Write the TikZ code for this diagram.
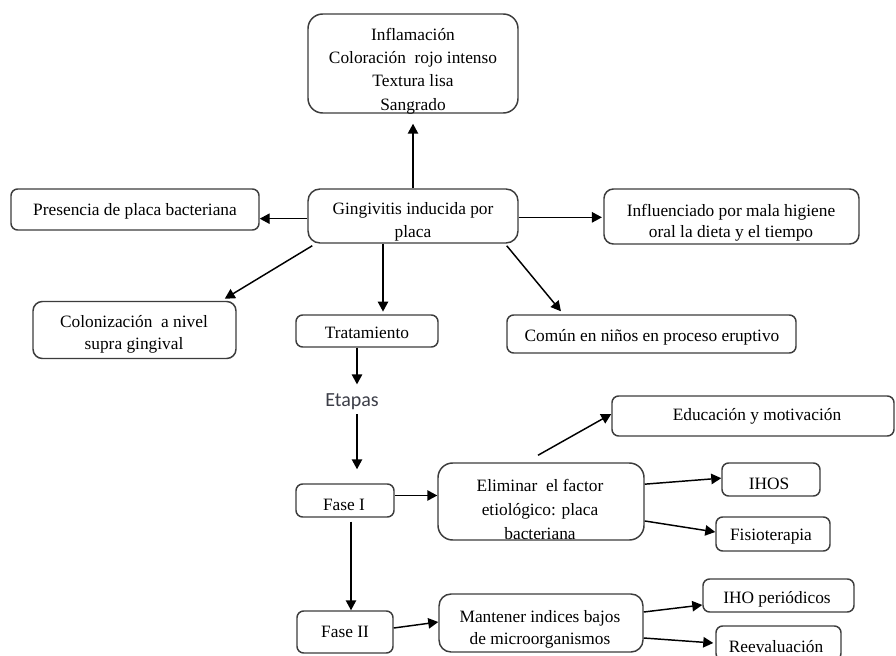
\documentclass[tikz,border=0pt]{standalone}
\usepackage{fontspec}
\setmainfont{Liberation Serif}
\newfontfamily\etapasfont{Carlito}
\usetikzlibrary{arrows.meta}
\definecolor{boxgray}{RGB}{60,60,60}
\definecolor{etapascol}{RGB}{60,62,72}
\begin{document}
\begin{tikzpicture}[x=0.75pt,y=-0.75pt,
  box/.style 2 args={draw=boxgray, line width=1.1pt, rounded corners=5pt, minimum width=#1*0.75pt, minimum height=#2*0.75pt, inner sep=0pt},
  txt/.style={align=center, inner sep=0pt, font=\fontsize{13}{17}\selectfont},
  arr/.style={draw=black, line width=1.1pt, -{Triangle[length=7.5pt,width=7.8pt]}},
  ln/.style={draw=black, line width=1pt}]
\clip (0,0) rectangle (896,656);
\fill[white] (0,0) rectangle (896,656);
% boxes
\node[box={210}{99}, rounded corners=11pt] (sym) at (413,63.5) {};
\node[box={210}{54}, rounded corners=9pt] (main) at (413,216) {};
\node[box={248}{41}] (pres) at (135,209.5) {};
\node[box={255}{55}, rounded corners=7pt] (infl) at (731.5,216.5) {};
\node[box={203}{57}, rounded corners=7pt] (colo) at (134.5,330) {};
\node[box={142}{32}] (trat) at (367,331) {};
\node[box={289}{38}] (comun) at (651.5,334) {};
\node[box={98}{33}] (fase1) at (345,500.5) {};
\node[box={206}{77}, rounded corners=11pt] (elim) at (541,501.5) {};
\node[box={282}{40}] (edu) at (753,416) {};
\node[box={98}{33}] (ihos) at (771,479.5) {};
\node[box={114}{34}] (fisio) at (773,534) {};
\node[box={96}{42}] (fase2) at (345,632) {};
\node[box={204}{58}, rounded corners=9pt] (mant) at (541,623) {};
\node[box={151}{33}] (iho) at (778.5,595.5) {};
\node[box={125}{34}] (reev) at (778.5,643) {};
% texts
\node[txt, font=\fontsize{13}{17.6}\selectfont] (symT) at (413,71) {Inflamación\\Coloración\ \ rojo intenso\\Textura lisa\\Sangrado};
\node[txt] (mainT) at (413,221.5) {Gingivitis inducida por\\placa};
\node[txt] (presT) at (135,211) {Presencia de placa bacteriana};
\node[txt, font=\fontsize{13}{16}\selectfont] (inflT) at (731,222.5) {Influenciado por mala\ higiene\\oral la dieta y el tiempo};
\node[txt] (coloT) at (134,334.5) {Colonización\ \ a nivel\\supra gingival};
\node[txt] (tratT) at (367,333) {Tratamiento};
\node[txt] (comunT) at (652,337) {Común en niños en proceso eruptivo};
\node[inner sep=0pt, text=etapascol, font=\etapasfont\fontsize{15}{18}\selectfont] (etapas) at (352,402) {Etapas};
\node[txt] (fase1T) at (344,505) {Fase I};
\node[txt, font=\fontsize{13}{18}\selectfont] (elimT) at (540,509) {Eliminar\ \ el factor\\etiológico: placa\\bacteriana};
\node[txt] (eduT) at (757,416) {Educación y motivación};
\node[txt] (ihosT) at (769,484) {IHOS};
\node[txt] (fisioT) at (771,537) {Fisioterapia};
\node[txt] (fase2T) at (345,632) {Fase II};
\node[txt, font=\fontsize{13}{16.5}\selectfont] (mantT) at (540,629) {Mantener indices bajos\\de microorganismos};
\node[txt] (ihoT) at (777,599) {IHO\ periódicos};
\node[txt] (reevT) at (776,647) {Reevaluación};
% connectors
\draw[arr, shorten >=7.5pt] (main.north) -- (sym.south);
\draw[arr] ([yshift=-2pt]main.west) -- ([yshift=-2pt]main.west -| pres.east);
\draw[arr, shorten >=1pt] ([yshift=-1pt]main.east) -- ([yshift=-1pt]main.east -| infl.west);
\draw[arr] ([xshift=3.75pt,yshift=-1.5pt]main.south west) -- ([xshift=-9pt,yshift=1.5pt]colo.north east);
\draw[arr, shorten >=2pt] ([xshift=-22.5pt]main.south) -- ([xshift=-22.5pt]main.south |- trat.north);
\draw[arr] ([xshift=-9pt,yshift=-1.5pt]main.south east) -- ([xshift=41pt,yshift=2.25pt]comun.north west);
\draw[arr, shorten >=7pt] ([xshift=-7.5pt]trat.south) -- ([xshift=-7.5pt]trat.south |- etapas.north);
\draw[arr, shorten <=3pt, shorten >=10.5pt] ([xshift=3.75pt]etapas.south) -- ([xshift=3.75pt]etapas.south |- fase1.north);
\draw[arr] ([yshift=3.75pt]fase1.east) -- ([yshift=3.75pt]fase1.east -| elim.west);
\draw[arr] ([xshift=-2.25pt,yshift=5.25pt]elim.north) -- ([yshift=1.5pt]edu.west);
\draw[arr] ([yshift=13pt]elim.east) -- ([yshift=1pt]ihos.west);
\draw[arr] ([yshift=-14.6pt]elim.east) -- ([yshift=1.5pt]fisio.west);
\draw[arr, shorten <=3pt] ([xshift=4.5pt]fase1.south) -- ([xshift=4.5pt]fase1.south |- fase2.north);
\draw[arr] ([yshift=3pt]fase2.east) -- ([yshift=0.75pt]mant.west);
\draw[arr] ([yshift=8.25pt]mant.east) -- ([yshift=-7.1pt]iho.west);
\draw[arr] ([yshift=-11.25pt]mant.east) -- ([xshift=-1.5pt]reev.west);
\end{tikzpicture}
\end{document}
